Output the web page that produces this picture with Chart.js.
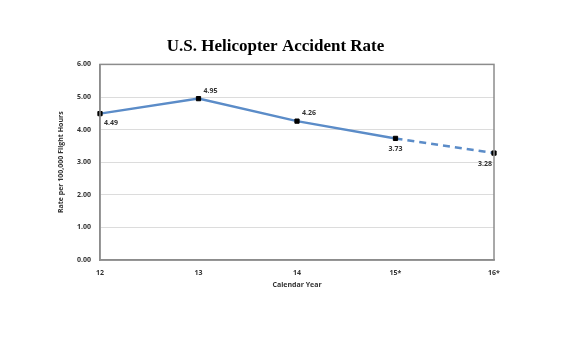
<!DOCTYPE html>
<html>
<head>
<meta charset="utf-8">
<script src="https://cdn.jsdelivr.net/npm/chart.js@4"></script>
<style>
html,body{margin:0;padding:0;background:#fff;}
#wrap{width:570px;height:360px;}
</style>
</head>
<body>
<div id="wrap"><canvas id="c" width="570" height="360"></canvas></div>
<script>
const categories = ['12', '13', '14', '15*', '16*'];
const accidentRates = [4.49, 4.95, 4.26, 3.73, 3.28];
const yTickValues = [0, 1, 2, 3, 4, 5, 6];
const chartTitle = 'U.S. Helicopter Accident Rate';
const yAxisTitle = 'Rate per 100,000 Flight Hours';
const xAxisTitle = 'Calendar Year';

// label placement (style only): dx, dy relative to point, alignment
const labelPlacement = [
  {dx: 4, dy: 9, align: 'left'},
  {dx: 5, dy: -8, align: 'left'},
  {dx: 5, dy: -8, align: 'left'},
  {dx: 0, dy: 11, align: 'center'},
  {dx: -2, dy: 11, align: 'right'}
];

const labelPlugin = {
  id: 'valueLabels',
  afterDatasetsDraw(chart) {
    const ctx = chart.ctx;
    const meta = chart.getDatasetMeta(0);
    ctx.save();
    ctx.font = 'bold 7px "Open Sans", sans-serif';
    ctx.fillStyle = '#333';
    ctx.textBaseline = 'middle';
    meta.data.forEach((pt, i) => {
      const p = labelPlacement[i];
      ctx.textAlign = p.align;
      ctx.fillText(accidentRates[i].toFixed(2), pt.x + p.dx, pt.y + p.dy);
    });
    ctx.restore();
  }
};

const framePlugin = {
  id: 'frame',
  afterDraw(chart) {
    const a = chart.chartArea;
    const ctx = chart.ctx;
    ctx.save();
    ctx.strokeStyle = '#8c8c8c';
    ctx.lineWidth = 1.5;
    ctx.strokeRect(a.left, a.top, a.right - a.left, a.bottom - a.top);
    ctx.restore();
  }
};

new Chart(document.getElementById('c'), {
  type: 'line',
  data: {
    labels: categories,
    datasets: [{
      data: accidentRates,
      borderColor: '#5b8cc8',
      borderWidth: 2.5,
      pointStyle: 'rect',
      pointRadius: 3,
      pointBackgroundColor: '#000',
      pointBorderColor: '#000',
      pointBorderWidth: 1,
      tension: 0,
      segment: {
        borderDash: ctx => ctx.p0DataIndex >= 3 ? [7, 5] : undefined
      }
    }]
  },
  options: {
    responsive: false,
    animation: false,
    layout: {padding: {left: 57, right: 76, top: 0, bottom: 71}},
    plugins: {
      legend: {display: false},
      tooltip: {enabled: false},
      title: {
        display: true,
        text: chartTitle,
        color: '#000',
        font: {family: '"Liberation Serif", "Times New Roman", serif', size: 17, weight: 'bold'},
        padding: {top: 36, bottom: 8}
      }
    },
    scales: {
      x: {
        offset: false,
        grid: {display: false, drawTicks: false},
        border: {display: true, color: '#8c8c8c', width: 1.5},
        ticks: {color: '#333', font: {size: 7, weight: 'bold', family: '"Open Sans", sans-serif'}, padding: 9, maxRotation: 0},
        title: {display: true, text: xAxisTitle, color: '#333', font: {size: 7, weight: 'bold', family: '"Open Sans", sans-serif'}, padding: {top: 2, bottom: 0}},
        afterFit(scale) { scale.height = 29; }
      },
      y: {
        min: 0,
        max: 6,
        afterBuildTicks(scale) { scale.ticks = yTickValues.map(v => ({value: v})); },
        grid: {color: '#dcdcdc', lineWidth: 1, drawTicks: false},
        border: {display: true, color: '#8c8c8c', width: 1.5},
        ticks: {color: '#333', font: {size: 7, weight: 'bold', family: '"Open Sans", sans-serif'}, padding: 9,
          callback: v => Number(v).toFixed(2)},
        title: {display: true, text: yAxisTitle, color: '#333', font: {size: 7, weight: 'bold', family: '"Open Sans", sans-serif'}, padding: 0},
        afterFit(scale) { scale.width = 43; }
      }
    }
  },
  plugins: [labelPlugin, framePlugin]
});
</script>
</body>
</html>
